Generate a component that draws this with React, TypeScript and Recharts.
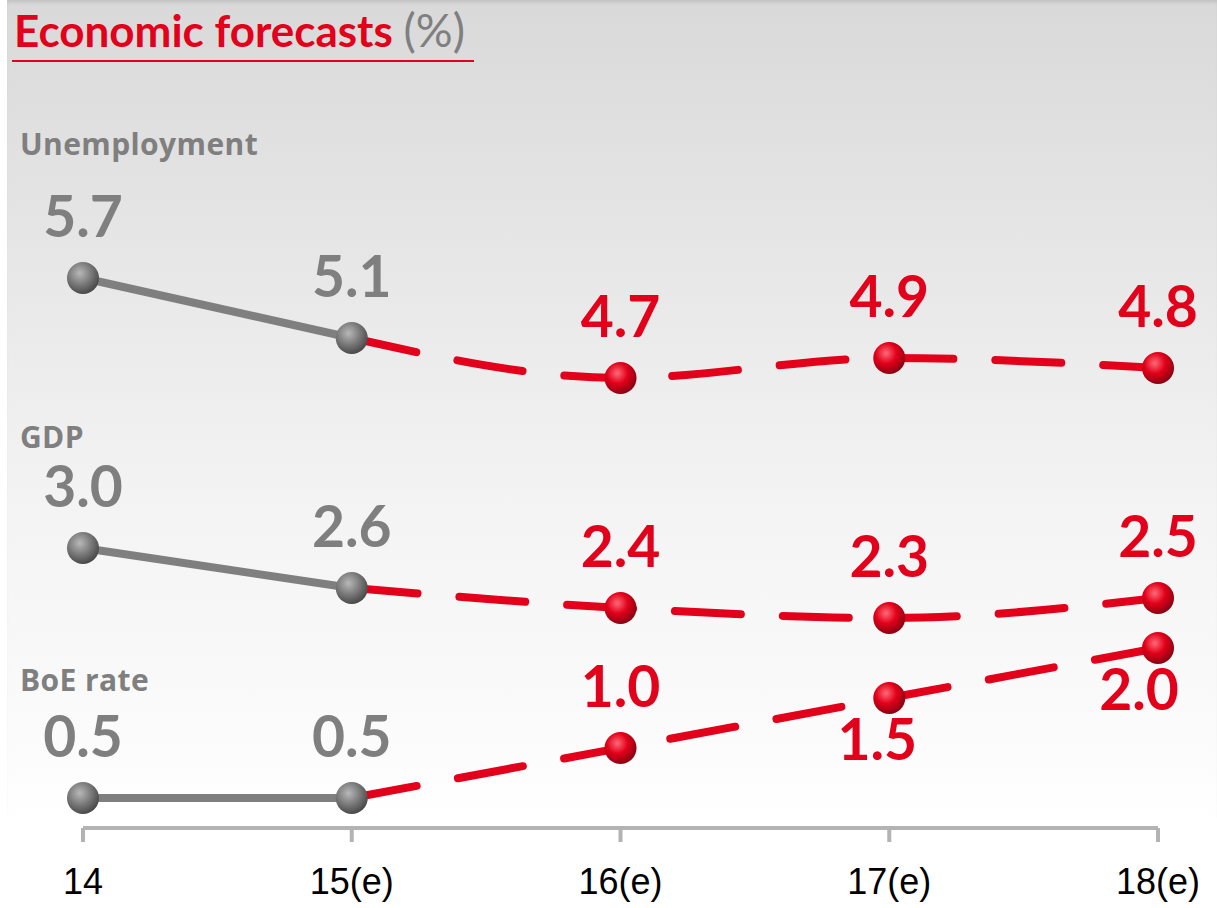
import React from 'react';
import { LineChart, Line, XAxis, YAxis, LabelList } from 'recharts';

const years = ['14', '15(e)', '16(e)', '17(e)', '18(e)'];
const unemployment = [5.7, 5.1, 4.7, 4.9, 4.8];
const gdp = [3.0, 2.6, 2.4, 2.3, 2.5];
const boeRate = [0.5, 0.5, 1.0, 1.5, 2.0];
// index of the last actual (non-forecast) year
const lastActual = 1;

const RED = '#e2001a';
const GREY = '#7f7f7f';
const FONT = 'Lato, "Liberation Sans", sans-serif';

const split = (vals: number[], i: number) => ({
  a: i <= lastActual ? vals[i] : null,
  f: i >= lastActual ? vals[i] : null,
});

const data = years.map((year, i) => {
  const u = split(unemployment, i);
  const g = split(gdp, i);
  const b = split(boeRate, i);
  return { year, uA: u.a, uF: u.f, gA: g.a, gF: g.f, bA: b.a, bF: b.f };
});

function sphere(grad: string, skipIndex?: number) {
  return (p: any) => {
    const { cx, cy, index, value } = p;
    if (value == null || cy == null || index === skipIndex) return <g key={`d${index}`} />;
    return <circle key={`d${index}`} cx={cx} cy={cy} r={16} fill={`url(#${grad})`} />;
  };
}

// below: indexes whose label sits under the point; shift: x nudges
function valueLabel(color: string, opts: { skip?: number; below?: number[]; shift?: Record<number, number> } = {}) {
  return (p: any) => {
    const { x, y, value, index } = p;
    if (value == null || index === opts.skip) return null;
    const under = opts.below?.includes(index);
    const dx = opts.shift?.[index] ?? 0;
    return (
      <text
        x={x + dx}
        y={under ? y + 62 : y - 41}
        textAnchor="middle"
        fill={color}
        fontSize={57}
        fontWeight={700}
        fontFamily={FONT}
      >
        {Number(value).toFixed(1)}
      </text>
    );
  };
}

const sectionStyle: React.CSSProperties = {
  position: 'absolute',
  left: 20,
  color: GREY,
  fontWeight: 700,
  fontSize: 30,
  fontFamily: '"Open Sans", sans-serif',
  letterSpacing: 0.4,
  lineHeight: 1,
};

export default function App() {
  const dash = { stroke: RED, strokeWidth: 8, strokeDasharray: '66 42', strokeLinecap: 'round' as const };
  const solid = { stroke: GREY, strokeWidth: 8 };
  return (
    <div style={{ position: 'absolute', left: 0, top: 0, width: 1217, height: 908, background: '#fff', overflow: 'hidden' }}>
      <div style={{
        position: 'absolute', left: 7, top: 0, width: 1210, height: 818,
        background: 'linear-gradient(to bottom, #d9d9d9 0%, #e6e6e6 30%, #f3f3f3 60%, #fbfbfb 90%, #ffffff 100%)',
        boxShadow: 'inset 0 4px 4px -2px rgba(0,0,0,.12)',
      }} />
      <div style={{ position: 'absolute', left: 14, top: 5, fontFamily: FONT, fontSize: 44, fontWeight: 700, color: RED, lineHeight: 1.1, whiteSpace: 'nowrap' }}>
        Economic forecasts <span style={{ color: GREY, fontWeight: 400, fontSize: 46 }}>(%)</span>
      </div>
      <div style={{ position: 'absolute', left: 12, top: 60, width: 462, height: 2, background: RED }} />
      <div style={{ ...sectionStyle, top: 129 }}>Unemployment</div>
      <div style={{ ...sectionStyle, top: 422 }}>GDP</div>
      <div style={{ ...sectionStyle, top: 665 }}>BoE rate</div>

      <div style={{ position: 'absolute', left: 0, top: 0 }}>
        <LineChart width={1217} height={908} data={data} margin={{ top: 0, right: 59, bottom: 0, left: 83 }}>
          <defs>
            <radialGradient id="sphGrey" cx="40%" cy="35%" r="65%">
              <stop offset="0%" stopColor="#b8b8b8" />
              <stop offset="55%" stopColor="#7a7a7a" />
              <stop offset="100%" stopColor="#4a4a4a" />
            </radialGradient>
            <radialGradient id="sphRed" cx="40%" cy="35%" r="65%">
              <stop offset="0%" stopColor="#ff6a78" />
              <stop offset="50%" stopColor="#e2001a" />
              <stop offset="100%" stopColor="#8c0012" />
            </radialGradient>
          </defs>
          <XAxis
            dataKey="year"
            interval={0}
            height={80}
            tickSize={14}
            tickMargin={26}
            axisLine={{ stroke: '#b3b3b3', strokeWidth: 4 }}
            tickLine={{ stroke: '#b3b3b3', strokeWidth: 4 }}
            tick={{ fill: '#000', fontSize: 36, fontFamily: '"Liberation Sans", sans-serif' }}
          />
          <YAxis hide type="number" domain={[0.2, 8.48]} allowDataOverflow />

          <Line dataKey="uF" type="monotone" {...dash} dot={sphere('sphRed', lastActual)} activeDot={false} isAnimationActive={false}>
            <LabelList dataKey="uF" content={valueLabel(RED, { skip: lastActual })} />
          </Line>
          <Line dataKey="gF" type="monotone" {...dash} dot={sphere('sphRed', lastActual)} activeDot={false} isAnimationActive={false}>
            <LabelList dataKey="gF" content={valueLabel(RED, { skip: lastActual })} />
          </Line>
          <Line dataKey="bF" type="monotone" {...dash} dot={sphere('sphRed', lastActual)} activeDot={false} isAnimationActive={false}>
            <LabelList dataKey="bF" content={valueLabel(RED, { skip: lastActual, below: [3, 4], shift: { 3: -12, 4: -19 } })} />
          </Line>

          <Line dataKey="uA" type="linear" {...solid} dot={sphere('sphGrey')} activeDot={false} isAnimationActive={false}>
            <LabelList dataKey="uA" content={valueLabel(GREY)} />
          </Line>
          <Line dataKey="gA" type="linear" {...solid} dot={sphere('sphGrey')} activeDot={false} isAnimationActive={false}>
            <LabelList dataKey="gA" content={valueLabel(GREY)} />
          </Line>
          <Line dataKey="bA" type="linear" {...solid} dot={sphere('sphGrey')} activeDot={false} isAnimationActive={false}>
            <LabelList dataKey="bA" content={valueLabel(GREY)} />
          </Line>
        </LineChart>
      </div>
    </div>
  );
}
